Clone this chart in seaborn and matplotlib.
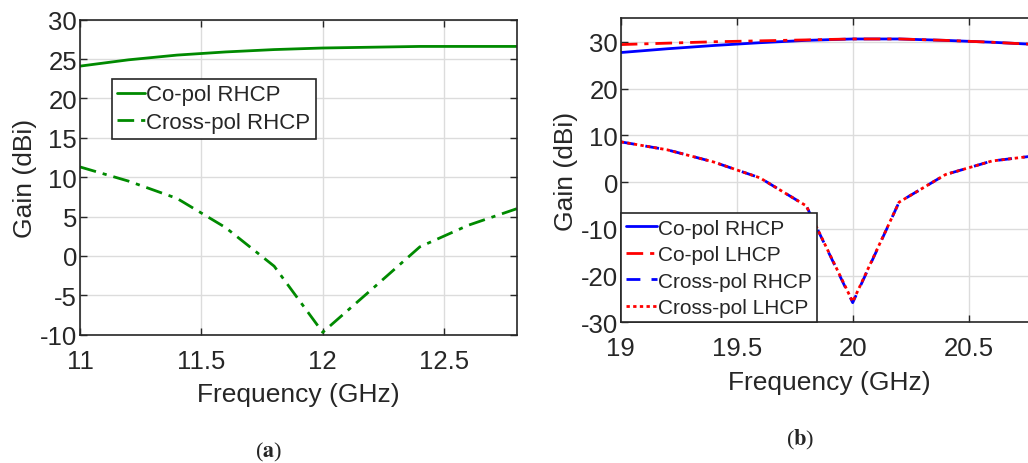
import numpy as np
import pandas as pd
import matplotlib
matplotlib.use("Agg")
import matplotlib.pyplot as plt
import seaborn as sns

# ---------------- data ----------------
freq_a = [11.0, 11.2, 11.4, 11.6, 11.8, 12.0, 12.2, 12.4, 12.6, 12.8]
copol_rhcp_a = [24.1, 24.9, 25.5, 25.9, 26.2, 26.4, 26.5, 26.6, 26.6, 26.6]
xpol_rhcp_a = [11.3, 9.5, 7.3, 3.6, -1.3, -9.7, -4.3, 1.15, 3.9, 6.0]

freq_b = [19.0, 19.2, 19.4, 19.6, 19.8, 20.0, 20.2, 20.4, 20.6, 20.8]
copol_rhcp_b = [27.7, 28.5, 29.2, 29.8, 30.3, 30.6, 30.6, 30.3, 29.9, 29.4]
copol_lhcp_b = [29.4, 29.7, 30.0, 30.2, 30.4, 30.6, 30.6, 30.3, 29.9, 29.4]
xpol_rhcp_b = [8.6, 6.9, 4.3, 0.9, -5.1, -25.8, -4.3, 1.6, 4.5, 5.7]
xpol_lhcp_b = [8.6, 6.9, 4.3, 0.9, -5.1, -25.6, -4.3, 1.6, 4.5, 5.7]

labels_a = ["Co-pol RHCP", "Cross-pol RHCP"]
labels_b = ["Co-pol RHCP", "Co-pol LHCP", "Cross-pol RHCP", "Cross-pol LHCP"]
xticks_a = [11, 11.5, 12, 12.5]
yticks_a = [-10, -5, 0, 5, 10, 15, 20, 25, 30]
xticks_b = [19, 19.5, 20, 20.5]
yticks_b = [-30, -20, -10, 0, 10, 20, 30]

# ---------------- style ----------------
sns.set_style("ticks")
plt.rcParams["font.family"] = ["Liberation Sans", "DejaVu Sans"]
plt.rcParams["mathtext.fontset"] = "stix"

fig = plt.figure(figsize=(10.28, 4.64), dpi=100)
axA = fig.add_axes([0.0778, 0.2765, 0.4250, 0.6790])
axB = fig.add_axes([0.6038, 0.3032, 0.4062, 0.6550])

GREEN = "#008a00"
FRAME = "#262626"

dfA = pd.DataFrame({"f": freq_a, labels_a[0]: copol_rhcp_a, labels_a[1]: xpol_rhcp_a})
sns.lineplot(data=dfA, x="f", y=labels_a[0], ax=axA, color=GREEN, lw=2.0,
             linestyle="-", label=labels_a[0])
sns.lineplot(data=dfA, x="f", y=labels_a[1], ax=axA, color=GREEN, lw=2.0,
             linestyle=(0, (6, 2.5, 1.5, 2.5)), label=labels_a[1])

dfB = pd.DataFrame({"f": freq_b, labels_b[0]: copol_rhcp_b, labels_b[1]: copol_lhcp_b,
                    labels_b[2]: xpol_rhcp_b, labels_b[3]: xpol_lhcp_b})
stylesB = [("#0000ff", "-"), ("#ff0000", (0, (6, 2.5, 1.5, 2.5))),
           ("#0000ff", (0, (5, 4))), ("#ff0000", (0, (1.2, 1.2)))]
for lab, (c, ls) in zip(labels_b, stylesB):
    sns.lineplot(data=dfB, x="f", y=lab, ax=axB, color=c, lw=2.0, linestyle=ls, label=lab)

for ax, xt, yt, xl, yl in [(axA, xticks_a, yticks_a, (11, 12.8), (-10, 30)),
                           (axB, xticks_b, yticks_b, (19, 20.8), (-30, 35))]:
    ax.set_xlim(*xl)
    ax.set_ylim(*yl)
    ax.set_xticks(xt)
    ax.set_yticks(yt)
    ax.set_xticklabels([f"{v:g}" for v in xt])
    ax.set_yticklabels([f"{v:g}" for v in yt])
    ax.grid(True, color="#dcdcdc", lw=1.0)
    ax.set_axisbelow(True)
    for s in ax.spines.values():
        s.set_color(FRAME)
        s.set_linewidth(1.2)
        s.set_visible(True)
    ax.tick_params(direction="in", length=5, width=1.0, color=FRAME,
                   top=True, right=True, labelsize=18.5, labelcolor=FRAME)
    ax.tick_params(axis="y", pad=2)
    ax.tick_params(axis="x", pad=10)
    ax.set_xlabel("Frequency (GHz)", fontsize=19, color=FRAME, labelpad=7)
    ax.set_ylabel("Gain (dBi)", fontsize=19, color=FRAME, labelpad=2)

legA = axA.legend(loc="upper left", bbox_to_anchor=(0.073, 0.812), fontsize=16,
                  handlelength=1.25, handletextpad=0.05, borderpad=0.25,
                  labelspacing=0.3, borderaxespad=0, frameon=True, fancybox=False)
legB = axB.legend(loc="lower left", bbox_to_anchor=(0.0, 0.0), fontsize=15,
                  handlelength=1.5, handletextpad=0.05, borderpad=0.25,
                  labelspacing=0.36, borderaxespad=0, frameon=True, fancybox=False)
for leg in (legA, legB):
    fr = leg.get_frame()
    fr.set_edgecolor(FRAME)
    fr.set_linewidth(1.2)
    fr.set_alpha(1)
    for t in leg.get_texts():
        t.set_color(FRAME)

fig.text(0.261, 0.025, r"($\mathbf{a}$)", ha="center", va="center", fontsize=16,
         family="Liberation Serif")
fig.text(0.778, 0.052, r"($\mathbf{b}$)", ha="center", va="center", fontsize=16,
         family="Liberation Serif")

fig.savefig("out.png", dpi=100)
